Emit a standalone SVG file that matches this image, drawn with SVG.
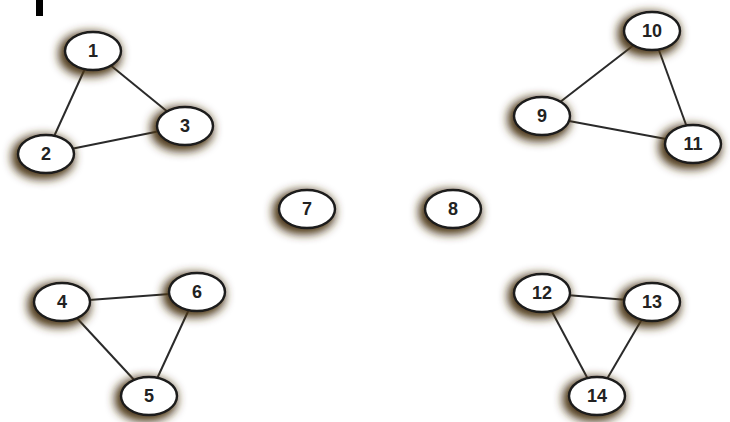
<svg xmlns="http://www.w3.org/2000/svg" width="730" height="422" viewBox="0 0 730 422">
<defs>
<filter id="sh" x="-60%" y="-60%" width="220%" height="220%">
<feMorphology in="SourceAlpha" operator="dilate" radius="2" result="d"/>
<feGaussianBlur in="d" stdDeviation="5" result="b"/>
<feOffset in="b" dx="-3" dy="3" result="o"/>
<feFlood flood-color="#4a3515" flood-opacity="1"/>
<feComposite in2="o" operator="in" result="s"/>
<feMerge><feMergeNode in="s"/><feMergeNode in="SourceGraphic"/></feMerge>
</filter>
</defs>
<style>
.n ellipse{fill:#fff;stroke:#1a1a1a;stroke-width:2.4;filter:url(#sh)}
.n text{font-family:"Liberation Sans",Arial,sans-serif;font-weight:bold;font-size:18px;fill:#222;text-anchor:middle;dominant-baseline:central}
.e line{stroke:#2a2a2a;stroke-width:2}
</style>
<rect width="730" height="422" fill="#fff"/>
<rect x="36" y="0" width="7" height="16" fill="#000"/>
<g class="e" id="edges">
<line x1="93" y1="51" x2="46" y2="154"/>
<line x1="93" y1="51" x2="185" y2="126"/>
<line x1="46" y1="154" x2="185" y2="126"/>
<line x1="652" y1="31" x2="542" y2="116"/>
<line x1="652" y1="31" x2="693" y2="144"/>
<line x1="542" y1="116" x2="693" y2="144"/>
<line x1="62" y1="302" x2="197" y2="292"/>
<line x1="62" y1="302" x2="149" y2="396"/>
<line x1="197" y1="292" x2="149" y2="396"/>
<line x1="542" y1="293" x2="652" y2="302"/>
<line x1="542" y1="293" x2="597" y2="396"/>
<line x1="652" y1="302" x2="597" y2="396"/>
</g>
<g class="n" id="n1"><ellipse cx="93" cy="51" rx="28" ry="19"/><text x="93" y="51">1</text></g>
<g class="n" id="n2"><ellipse cx="46" cy="154" rx="28" ry="19"/><text x="46" y="154">2</text></g>
<g class="n" id="n3"><ellipse cx="185" cy="126" rx="28" ry="19"/><text x="185" y="126">3</text></g>
<g class="n" id="n7"><ellipse cx="307" cy="209" rx="28" ry="19"/><text x="307" y="209">7</text></g>
<g class="n" id="n8"><ellipse cx="453" cy="209" rx="28" ry="19"/><text x="453" y="209">8</text></g>
<g class="n" id="n10"><ellipse cx="652" cy="31" rx="28" ry="19"/><text x="652" y="31">10</text></g>
<g class="n" id="n9"><ellipse cx="542" cy="116" rx="28" ry="19"/><text x="542" y="116">9</text></g>
<g class="n" id="n11"><ellipse cx="693" cy="144" rx="28" ry="19"/><text x="693" y="144">11</text></g>
<g class="n" id="n4"><ellipse cx="62" cy="302" rx="28" ry="19"/><text x="62" y="302">4</text></g>
<g class="n" id="n6"><ellipse cx="197" cy="292" rx="28" ry="19"/><text x="197" y="292">6</text></g>
<g class="n" id="n5"><ellipse cx="149" cy="396" rx="28" ry="19"/><text x="149" y="396">5</text></g>
<g class="n" id="n12"><ellipse cx="542" cy="293" rx="28" ry="19"/><text x="542" y="293">12</text></g>
<g class="n" id="n13"><ellipse cx="652" cy="302" rx="28" ry="19"/><text x="652" y="302">13</text></g>
<g class="n" id="n14"><ellipse cx="597" cy="396" rx="28" ry="19"/><text x="597" y="396">14</text></g>
</svg>
